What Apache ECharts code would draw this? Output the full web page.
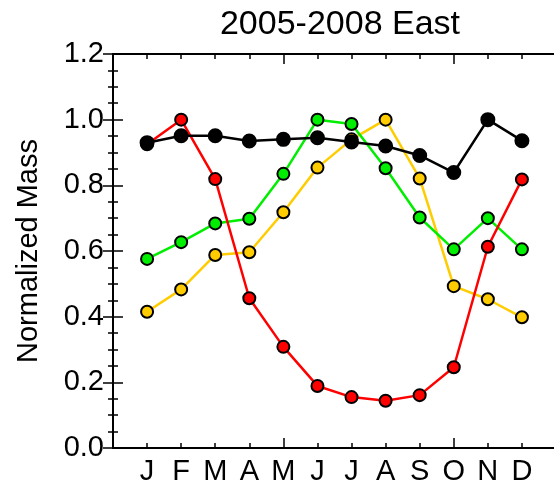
<!DOCTYPE html>
<html>
<head>
    <meta charset="UTF-8">
    <title>2005-2008 East</title>
    <script src="https://cdn.jsdelivr.net/npm/echarts@6/dist/echarts.min.js"></script>
    <style>
        body {
            padding: 0;
            margin: 0;
            overflow: hidden;
            background: #fff;
        }
        #chart {
            width: 554px;
            height: 489px;
        }
    </style>
</head>
<body>
<div id="chart"></div>

<script>
    const months = ['J', 'F', 'M', 'A', 'M', 'J', 'J', 'A', 'S', 'O', 'N', 'D'];
    const yTicks = ['0.0', '0.2', '0.4', '0.6', '0.8', '1.0', '1.2'];

    const yellowVals = [0.415, 0.483, 0.588, 0.596, 0.718, 0.854, 0.940, 1.000, 0.821, 0.493, 0.453, 0.398];
    const greenVals = [0.576, 0.627, 0.684, 0.698, 0.835, 1.000, 0.987, 0.852, 0.702, 0.605, 0.700, 0.605];
    const redVals = [0.925, 1.000, 0.819, 0.456, 0.308, 0.189, 0.155, 0.144, 0.161, 0.246, 0.613, 0.818];
    const blackVals = [0.930, 0.951, 0.951, 0.935, 0.940, 0.945, 0.932, 0.920, 0.891, 0.839, 1.000, 0.936];

    const font = '"Liberation Sans", Arial, Helvetica, sans-serif';
    const ec = echarts.init(document.getElementById('chart'));

    // x positions 1..12, axis runs 0..13 like the original plot
    function toPts(vals) {
        return vals.map((v, i) => [i + 1, v]);
    }

    function xAx(pos, step, tickLen, labels) {
        return {
            type: 'value',
            position: pos,
            min: 0,
            max: 13,
            interval: step,
            axisLine: {show: true, lineStyle: {color: '#000', width: 2}},
            axisTick: {show: tickLen > 0, inside: true, length: tickLen, lineStyle: {color: '#000', width: 1.5}},
            axisLabel: {
                show: labels,
                margin: 9,
                color: '#000',
                fontFamily: font,
                fontSize: 29,
                formatter: v => months[v - 1] || ''
            },
            splitLine: {show: false}
        };
    }

    function yAx(pos, labels) {
        return {
            type: 'value',
            position: pos,
            min: 0,
            max: 1.2,
            interval: 0.2,
            name: labels ? 'Normalized Mass' : '',
            nameLocation: 'middle',
            nameGap: 70,
            nameRotate: 90,
            nameTextStyle: {color: '#000', fontFamily: font, fontSize: 29},
            axisLine: {show: true, lineStyle: {color: '#000', width: 2}},
            axisTick: {show: true, inside: true, length: 10, lineStyle: {color: '#000', width: 1.5}},
            minorTick: {show: true, splitNumber: 4, length: 5, lineStyle: {color: '#000', width: 1.5}},
            axisLabel: {
                show: labels,
                margin: 9,
                color: '#000',
                fontFamily: font,
                fontSize: 29,
                formatter: (v, i) => yTicks[i]
            },
            splitLine: {show: false},
            minorSplitLine: {show: false}
        };
    }

    function line(vals, color, size) {
        return {
            type: 'line',
            data: toPts(vals),
            xAxisIndex: 0,
            yAxisIndex: 0,
            symbol: 'circle',
            symbolSize: size,
            lineStyle: {color: color, width: 2.5},
            itemStyle: {color: color, borderColor: '#000', borderWidth: 2}
        };
    }

    const option = {
        animation: false,
        backgroundColor: '#fff',
        title: {
            text: '2005-2008 East',
            left: 335,
            textAlign: 'center',
            top: 3,
            textStyle: {color: '#000', fontFamily: font, fontSize: 34, fontWeight: 'normal'}
        },
        grid: {left: 113, top: 54, width: 443, height: 394, containLabel: false, outerBoundsMode: 'none'},
        xAxis: [
            xAx('bottom', 1, 5, true),
            xAx('bottom', 5, 10, false),
            xAx('top', 1, 5, false),
            xAx('top', 5, 10, false)
        ],
        yAxis: [
            yAx('left', true),
            yAx('right', false)
        ],
        series: [
            line(yellowVals, '#ffcc00', 12),
            line(greenVals, '#00ee00', 12),
            line(redVals, '#ff0000', 12),
            line(blackVals, '#000', 13)
        ]
    };
    ec.setOption(option);
</script>
</body>
</html>
